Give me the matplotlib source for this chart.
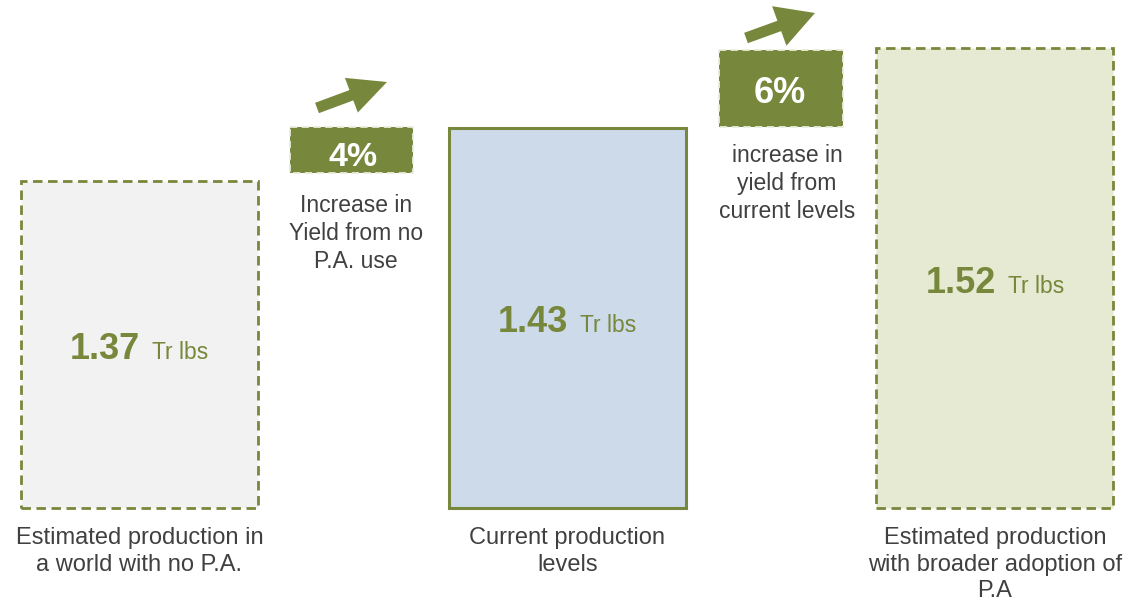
import matplotlib
matplotlib.use("Agg")
import matplotlib.pyplot as plt
import matplotlib.patches as mpatches

plt.rcParams['font.family'] = ['Liberation Sans', 'DejaVu Sans']

# ---- data ----
categories = ["Estimated production in\na world with no P.A.",
              "Current production\nlevels",
              "Estimated production\nwith broader adoption of\nP.A"]
values = [1.37, 1.43, 1.52]
value_labels = ["1.37", "1.43", "1.52"]
unit_label = "Tr lbs"
pct_labels = ["4%", "6%"]
pct_texts = ["Increase in\nYield from no\nP.A. use",
             "increase in\nyield from\ncurrent levels"]
baseline = 1.0

OLIVE = "#77873b"
TXT = "#404040"
fills = ["#f2f2f2", "#cddaea", "#e6ead3"]
styles = [(0, (3.4, 2.0)), "solid", (0, (3.4, 2.0))]

W, H = 1139, 603
fig = plt.figure(figsize=(W / 100, H / 100), dpi=100)
ax = fig.add_axes([0, 0, 1, 1])
ax.set_xlim(-0.3261, 2.3367)
ax.set_ylim(0.8926, 1.5746)
ax.axis("off")

x = list(range(len(values)))
bars = ax.bar(x, [v - baseline for v in values], bottom=baseline, width=0.554,
              color=fills, zorder=2)
for b, ls in zip(bars, styles):
    b.set_edgecolor(OLIVE)
    b.set_linewidth(2.0 if ls != "solid" else 2.2)
    b.set_linestyle(ls)

for xi, v, lab in zip(x, values, value_labels):
    ymid = (v + baseline) / 2
    ax.annotate(lab, (xi, ymid), xytext=(1, -14.5), textcoords="offset pixels",
                ha="right", va="baseline", fontsize=26, fontweight="bold",
                color=OLIVE, zorder=3)
    ax.annotate(unit_label, (xi, ymid), xytext=(13, -14.5), textcoords="offset pixels",
                ha="left", va="baseline", fontsize=16.5, color=OLIVE, zorder=3)

for xi, cat in zip(x, categories):
    ax.annotate(cat, (xi, baseline), xytext=(0, -19), textcoords="offset pixels",
                ha="center", va="top", fontsize=17, color=TXT,
                linespacing=1.27, multialignment="center")

# ---- overlay in pixel coordinates for call-out boxes and arrows ----
ov = fig.add_axes([0, 0, 1, 1])
ov.set_xlim(0, W)
ov.set_ylim(H, 0)
ov.axis("off")
ov.patch.set_alpha(0)

boxes = [(290, 127, 123, 46), (719, 50, 124, 77)]
pct_pos = [(353.5, 166, 24.5), (780, 103, 26)]
txt_pos = [(356, 193.5), (787, 143.5)]
arrows = [((317, 108), (387, 82), 11, 37, 38),
          ((746, 38), (815, 13), 11, 42, 38)]

for (bx, by, bw, bh), (px, py, fs), lab in zip(boxes, pct_pos, pct_labels):
    ov.add_patch(mpatches.Rectangle((bx, by), bw, bh, facecolor=OLIVE,
                                    edgecolor="#e9ecdc", linewidth=1.3,
                                    linestyle=(0, (4, 2.5))))
    ov.text(px, py, lab, ha="center", va="baseline", fontsize=fs,
            fontweight="bold", color="white")

for (tx, ty), t in zip(txt_pos, pct_texts):
    ov.text(tx, ty, t, ha="center", va="top", fontsize=16.5, color=TXT,
            linespacing=1.3, multialignment="center")

for (x0, y0), (x1, y1), w, hw, hl in arrows:
    ov.add_patch(mpatches.FancyArrow(x0, y0, x1 - x0, y1 - y0, width=w,
                                     head_width=hw, head_length=hl,
                                     length_includes_head=True,
                                     color=OLIVE, linewidth=0))

fig.savefig("out.png", dpi=100)
